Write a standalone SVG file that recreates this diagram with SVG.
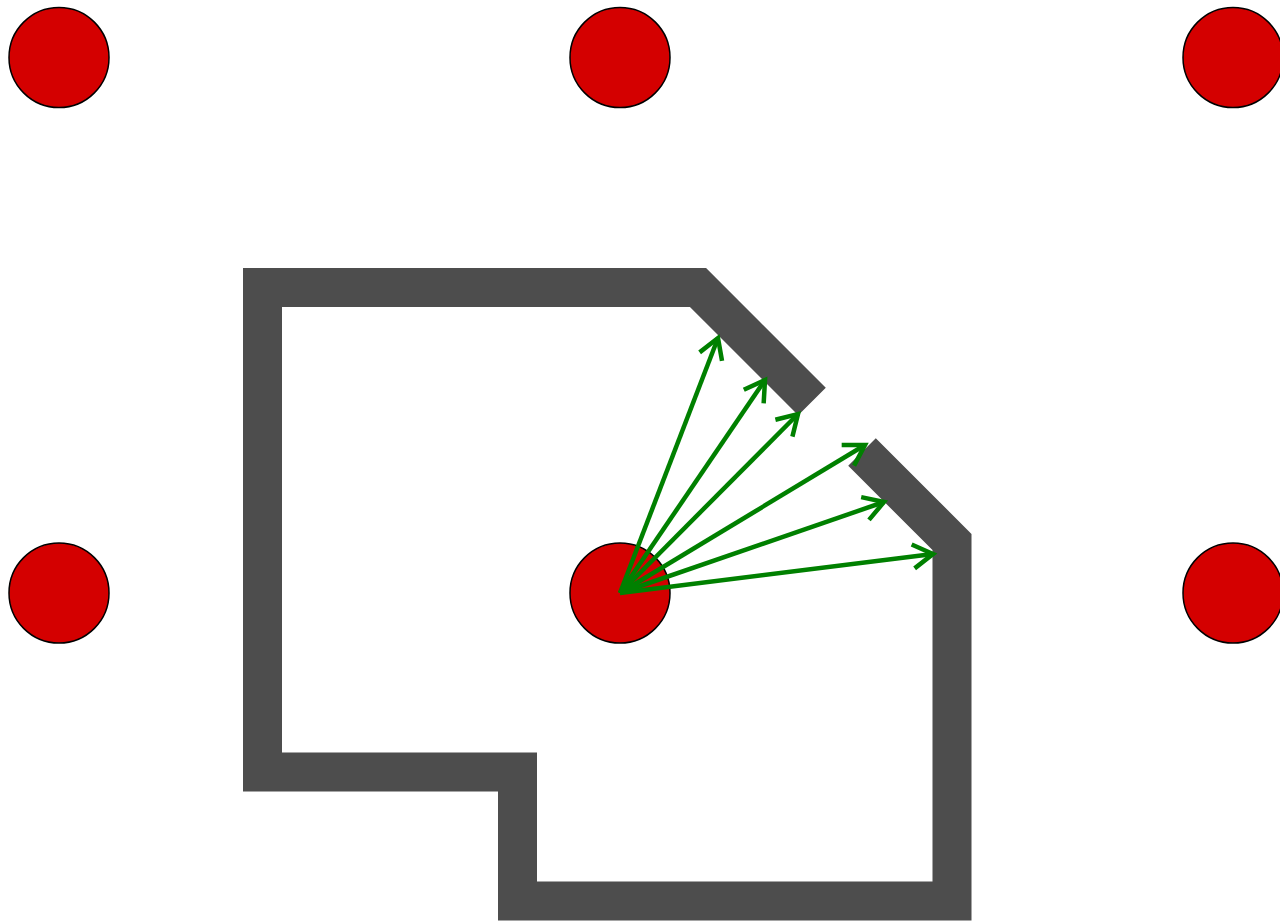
<svg xmlns="http://www.w3.org/2000/svg" width="1280" height="923" viewBox="0 0 1280 923">
  <style>
    .node { fill: #d40000; stroke: #000000; stroke-width: 1.5; }
    .wall { fill: none; stroke: #4d4d4d; stroke-width: 39; stroke-linejoin: miter; stroke-linecap: butt; stroke-miterlimit: 10; }
    .ray { stroke: #008000; stroke-width: 4.5; fill: none; marker-end: url(#head); }
  </style>
  <defs>
    <marker id="head" markerUnits="userSpaceOnUse" markerWidth="40" markerHeight="40" viewBox="-30 -20 40 40" refX="0" refY="0" orient="auto" overflow="visible">
      <path d="M-20,-12 L0,0 L-20,12" fill="none" stroke="#008000" stroke-width="4.5" stroke-linejoin="miter"/>
    </marker>
  </defs>
  <rect width="1280" height="923" fill="#ffffff"/>
  <g id="walls">
    <polyline class="wall" points="812,401.5 698,287.5 262.5,287.5 262.5,772 517.5,772 517.5,901 952,901 952,542 862,452"/>
  </g>
  <g id="n1"><circle class="node" cx="59" cy="57.5" r="50"/></g>
  <g id="n2"><circle class="node" cx="620" cy="57.5" r="50"/></g>
  <g id="n3"><circle class="node" cx="1233" cy="57.5" r="50"/></g>
  <g id="n4"><circle class="node" cx="59" cy="593" r="50"/></g>
  <g id="n5"><circle class="node" cx="620" cy="593" r="50"/></g>
  <g id="n6"><circle class="node" cx="1233" cy="593" r="50"/></g>
  <g id="connectors">
    <line class="ray" x1="620" y1="593" x2="718" y2="338"/>
    <line class="ray" x1="620" y1="593" x2="765" y2="380"/>
    <line class="ray" x1="620" y1="593" x2="798" y2="414"/>
    <line class="ray" x1="620" y1="593" x2="865" y2="445"/>
    <line class="ray" x1="620" y1="593" x2="884" y2="502"/>
    <line class="ray" x1="620" y1="593" x2="933" y2="554"/>
  </g>
</svg>
